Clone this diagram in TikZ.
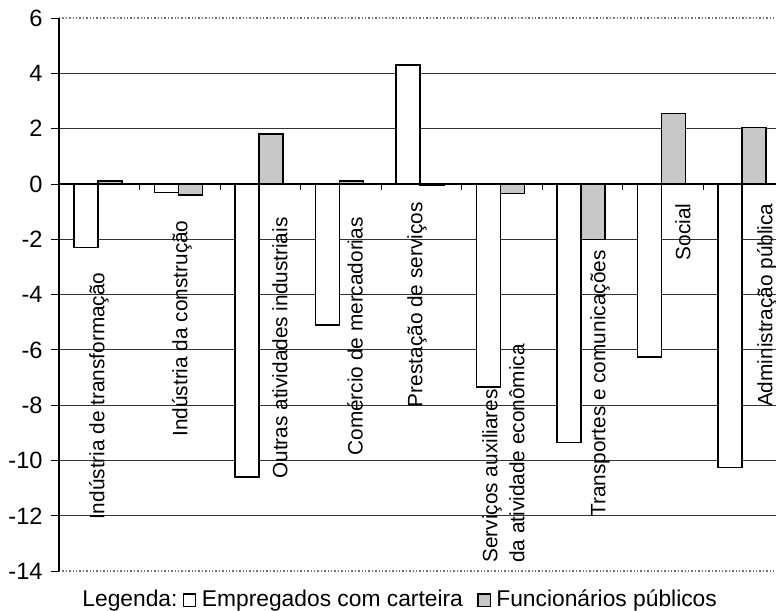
\documentclass[tikz,border=0pt]{standalone}
\usepackage{fontspec}
\setmainfont{Liberation Sans}
\usetikzlibrary{positioning}

\tikzset{
    empbar/.style={draw=black, line width=0.8pt, fill=white},
    funcbar/.style={draw=black, line width=0.8pt, fill=black!22},
    gridline/.style={black!80, line width=0.5pt},
    plotborder/.style={black!55, densely dotted, line width=0.7pt},
    catlabel/.style={rotate=90, inner sep=0pt, font=\fontsize{10.4}{13.5}\selectfont},
    ticklabel/.style={anchor=east, inner sep=0pt, font=\fontsize{11.8}{13}\selectfont},
    legtext/.style={inner sep=0pt, font=\fontsize{11.4}{13}\selectfont, text height=8.2pt, text depth=2.4pt},
    legbox/.style={draw=black, line width=0.6pt, minimum size=6.2pt, inner sep=0pt}
}

\begin{document}
\begin{tikzpicture}[x=0.5pt, y=13.825pt]
    \useasboundingbox (0,6.655) rectangle (776,-15.407);

    % Grid and plot frame
    \foreach \v in {4,2,-2,-4,-6,-8,-10,-12}
        \draw[gridline] (59,\v) -- (776,\v);
    \draw[plotborder] (59,6) -- (776,6);
    \draw[plotborder] (59,-14) -- (776,-14);

    % Value axis
    \draw[black, line width=0.6pt] (59,6) -- (59,-14);
    \foreach \v in {6,4,...,-14} {
        \draw[black, line width=0.5pt] (51,\v) -- (59,\v);
        \node[ticklabel] (ylab\v) at (43,\v) {\v};
    }

    % Bars: empregados com carteira / funcionarios publicos
    \foreach \i/\e/\f in {0/-2.3/0.1, 1/-0.3/-0.4, 2/-10.6/1.8, 3/-5.1/0.1, 4/4.3/-0.05,
                          5/-7.35/-0.35, 6/-9.35/-2.0, 7/-6.25/2.55, 8/-10.25/2.05} {
        \draw[empbar] ({59+80.5*\i+15},0) rectangle ({59+80.5*\i+39},\e);
        \draw[funcbar] ({59+80.5*\i+39},0) rectangle ({59+80.5*\i+63},\f);
    }

    % Category axis
    \draw[black, line width=0.7pt] (59,0) -- (776,0);
    \foreach \k in {1,...,8}
        \draw[black, line width=0.5pt] ({59+80.5*\k},0) -- ({59+80.5*\k},-0.22);

    % Category labels
    \node[catlabel, anchor=east] (lab_transf) at (99,-3.183) {Indústria de transformação};
    \node[catlabel, anchor=east] (lab_constr) at (182,-1.302) {Indústria da construção};
    \node[catlabel, anchor=east] (lab_outras) at (280,-1.193) {Outras atividades industriais};
    \node[catlabel, anchor=east] (lab_comercio) at (355,-1.193) {Comércio de mercadorias};
    \node[catlabel, anchor=east] (lab_prest) at (417,-0.651) {Prestação de serviços};
    \node[catlabel, anchor=west, align=left] (lab_aux) at (503.5,-13.707) {Serviços auxiliares\\da atividade econômica};
    \node[catlabel, anchor=east] (lab_transp) at (600,-2.387) {Transportes e comunicações};
    \node[catlabel, anchor=east] (lab_social) at (683,-0.687) {Social};
    \node[catlabel, anchor=east] (lab_adm) at (767,-0.687) {Administração pública};

    % Legend
    \node[legtext, anchor=base west] (leg_title) at (82,-15.262) {Legenda:};
    \node[legbox, right=2.5pt of leg_title] (leg_emp_box) {};
    \node[legtext, right=2.5pt of leg_emp_box] (leg_emp) {Empregados com carteira};
    \node[legbox, fill=black!22, right=7pt of leg_emp] (leg_func_box) {};
    \node[legtext, right=2.5pt of leg_func_box] (leg_func) {Funcionários públicos};
\end{tikzpicture}
\end{document}
